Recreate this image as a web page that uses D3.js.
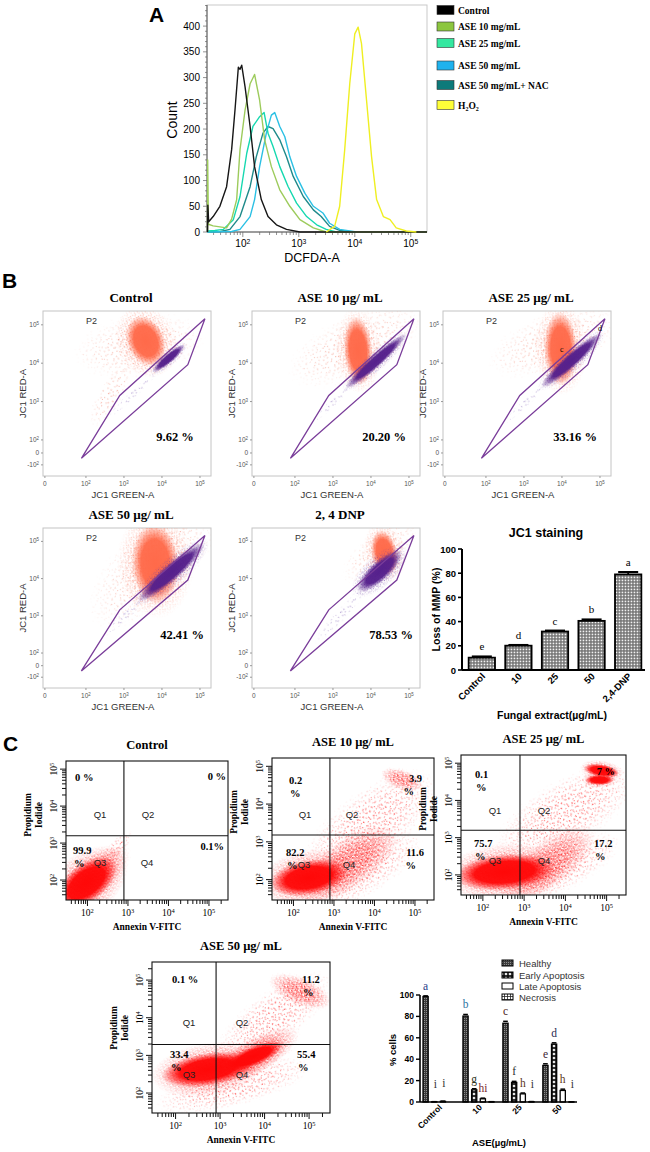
<!DOCTYPE html>
<html lang="en">
<head>
<meta charset="UTF-8">
<title>DCFDA, JC1 and Annexin V panels</title>
<script src="https://d3js.org/d3.v7.min.js"></script>
<style>
  body { margin: 0; background: #fff; }
  svg { display: block; }
</style>
</head>
<body>
<div id="figure"></div>
<script>

// ================= DATA =================

// Panel A: DCFDA histograms, points are [log10 DCFDA-A, count]
var histNames = ['Control', 'ASE 10 mg/mL', 'ASE 25 mg/mL', 'ASE 50 mg/mL', 'ASE 50 mg/mL+ NAC', 'H2O2'];
var histControl = [[1.37,0],[1.375,52],[1.39,20],[1.47,30],[1.59,50],[1.71,88],[1.80,160],[1.86,237],[1.92,320],[1.95,316],[1.98,324],[2.04,282],[2.13,205],[2.21,127],[2.33,63],[2.45,30],[2.60,14],[2.78,5],[3.02,0],[5.29,0]];
var histAse10 = [[1.37,0],[1.372,140],[1.385,15],[1.47,12],[1.71,8],[1.80,25],[1.89,63],[1.95,160],[2.04,237],[2.13,288],[2.21,306],[2.30,256],[2.39,179],[2.51,127],[2.66,82],[2.84,50],[3.02,24],[3.26,8],[3.49,0],[5.29,0]];
var histAse25 = [[1.37,2],[1.50,3],[1.65,5],[1.83,24],[1.95,69],[2.07,153],[2.18,205],[2.30,224],[2.38,232],[2.45,192],[2.54,166],[2.66,127],[2.81,88],[2.96,56],[3.14,30],[3.32,14],[3.49,5],[3.67,0]];
var histAse50 = [[1.37,0],[1.80,1],[1.95,5],[2.13,30],[2.21,63],[2.30,127],[2.42,192],[2.51,227],[2.57,232],[2.66,205],[2.75,185],[2.84,146],[2.96,108],[3.11,75],[3.26,50],[3.43,37],[3.55,17],[3.73,5],[4.03,0]];
var histNac = [[1.37,0],[1.60,1],[1.77,5],[1.95,30],[2.13,88],[2.24,146],[2.36,192],[2.45,205],[2.54,201],[2.66,179],[2.78,146],[2.90,108],[3.08,69],[3.26,43],[3.40,30],[3.55,11],[3.73,3],[3.97,0]];
var histH2o2 = [[3.49,0],[3.64,11],[3.73,50],[3.82,160],[3.91,288],[4.00,385],[4.06,398],[4.12,366],[4.21,256],[4.30,146],[4.39,63],[4.51,30],[4.63,24],[4.74,8],[4.92,2],[5.10,0]];
var histYTicks = [0, 50, 100, 150, 200, 250, 300, 350, 400];
var histXTicks = [2, 3, 4, 5];

// Panel B: JC1 dot plots (display units ~ log10, biexponential near 0)
var jc1Titles = ['Control', 'ASE 10 µg/ mL', 'ASE 25 µg/ mL', 'ASE 50 µg/ mL', '2, 4 DNP'];
var jc1Gated = ['9.62 %', '20.20 %', '33.16 %', '42.41 %', '78.53 %'];
var jc1Gate = [[1.88,1.52],[2.89,3.16],[5.13,5.16],[4.68,3.96]];   // P2 gate, [GREEN, RED]
var jc1XTicks = [[0.92,'0'],[2,'2'],[3,'3'],[4,'4'],[5,'5']];
var jc1YTicks = [[1.35,'-2'],[1.66,'0'],[2,'2'],[3,'3'],[4,'4'],[5,'5']];
// event clouds: [population, density, green1, red1, green2, red2, width]
var jc1CloudsControl = [['J','sparse',2.5,4.3,4.3,4.6,1.6],['J','sparse',2.3,2.6,3.0,3.8,0.6],['J','core',3.5,4.75,3.65,4.4,0.8],
                        ['M','sparse',2.6,2.6,3.9,3.8,0.2],['M','core',3.85,3.85,4.5,4.4,0.2]];
var jc1CloudsAse10 = [['J','sparse',2.6,4.0,4.6,4.9,1.6],['J','core',3.62,4.85,3.7,3.8,0.6],
                      ['M','sparse',2.5,2.5,3.5,3.45,0.2],['M','core',3.45,3.45,4.8,4.65,0.26]];
var jc1CloudsAse25 = [['J','sparse',2.8,4.2,4.8,4.9,1.5],['J','core',3.95,4.9,3.98,3.85,0.7],
                      ['M','sparse',2.5,2.45,3.6,3.5,0.2],['M','core',3.6,3.5,4.9,4.65,0.3]];
var jc1CloudsAse50 = [['J','sparse',2.9,3.5,4.6,5.2,1.9],['J','core',3.8,4.85,3.85,3.95,1.0],
                      ['M','sparse',2.5,2.5,3.6,3.55,0.25],['M','core',3.55,3.55,4.95,4.8,0.36]];
var jc1CloudsDnp = [['J','sparse',3.7,4.3,4.8,5.2,1.0],['J','core',4.3,4.95,4.4,4.45,0.55],
                    ['M','sparse',2.6,2.35,3.9,3.8,0.3],['M','core',3.85,3.85,4.6,4.55,0.42]];

// JC1 staining bar chart
var jc1Groups = ['Control', '10', '25', '50', '2,4-DNP'];
var jc1Loss = [10.2, 20.1, 31.8, 40.6, 79.0];
var jc1Err = [1.0, 0.6, 0.8, 1.2, 2.0];
var jc1Letters = ['e', 'd', 'c', 'b', 'a'];

// Panel C: Annexin V-FITC / PI quadrants (log10 units)
var apoTitles = ['Control', 'ASE 10 µg/ mL', 'ASE 25 µg/ mL', 'ASE 50 µg/ mL'];
var apoQ1 = ['0 %', '0.2 %', '0.1 %', '0.1 %'];
var apoQ2 = ['0 %', '3.9 %', '7 %', '11.2 %'];
var apoQ3 = ['99.9 %', '82.2 %', '75.7 %', '33.4 %'];
var apoQ4 = ['0.1%', '11.6 %', '17.2 %', '55.4 %'];
var apoGateX = [2.9, 2.9, 2.9, 2.91];
var apoGateY = [3.2, 3.18, 3.2, 3.29];
var apoTicks = [2, 3, 4, 5];
// event clouds: [density, annexin1, pi1, annexin2, pi2, width]
var apoCloudsControl = [['sparse',2.3,2.3,2.95,3.15,0.4],['mid',1.55,1.55,2.6,2.5,0.8],['core',1.65,1.65,2.3,2.2,0.75]];
var apoCloudsAse10 = [['sparse',2.9,2.6,4.8,4.2,1.6],['sparse',2.6,1.6,4.6,2.8,1.2],['mid',2.8,2.0,4.0,2.9,1.0],['mid',4.4,4.75,4.95,4.55,0.4],['core',1.85,1.95,2.9,2.15,0.7]];
var apoCloudsAse25 = [['sparse',3.0,3.0,5.0,4.3,1.5],['sparse',2.8,1.6,4.8,2.7,1.1],['mid',3.0,1.8,4.2,2.8,0.9],['core',4.6,4.85,5.15,4.75,0.25],['core',4.6,4.55,5.05,4.55,0.2],['core',1.75,2.0,3.3,2.15,0.7]];
var apoCloudsAse50 = [['sparse',2.0,1.8,4.6,2.6,0.9],['sparse',3.4,3.3,5.0,4.7,1.1],['mid',4.4,4.9,5.2,4.5,0.5],['mid',3.2,2.6,4.4,3.4,0.65],['core',2.05,2.5,3.4,2.75,0.6],['core',3.3,2.75,4.2,3.2,0.35]];

// Apoptosis bar chart
var apoGroups = ['Control', '10', '25', '50'];
var apoSeries = ['Healthy', 'Early Apoptosis', 'Late Apoptosis', 'Necrosis'];
var apoHealthy = [98.6, 80.3, 73.6, 34.2];
var apoEarly = [0.2, 11.4, 18.3, 54.1];
var apoLate = [0.6, 3.0, 7.6, 10.8];
var apoNecrosis = [0.0, 0.2, 0.3, 0.1];
var apoHealthyErr = [0.6, 1.5, 1.8, 1.5];
var apoEarlyErr = [0.1, 1.0, 1.0, 1.2];
var apoLateErr = [0.2, 0.6, 0.8, 1.2];
var apoNecrosisErr = [0.0, 0.1, 0.1, 0.1];
var apoHealthyLetters = ['a', 'b', 'c', 'e'];
var apoEarlyLetters = ['i', 'g', 'f', 'd'];
var apoLateLetters = ['i', 'hi', 'h', 'h'];
var apoNecrosisLetters = ['', '', 'i', 'i'];

// ================= DRAWING =================

var SERIF = '"Liberation Serif", "Times New Roman", serif';
var SANS = '"Liberation Sans", Arial, sans-serif';

var svg = d3.select('#figure').append('svg')
    .attr('width', 650).attr('height', 1152);
var defs = svg.append('defs');

// speckle patterns for the dot clouds
var speckDots = [[1,2],[5,1],[9,4],[3,7],[11,9],[7,12],[13,13],[2,12],[12,5],[7,6]];
function speckle(id, color, tile, r, rot) {
    var p = defs.append('pattern').attr('id', id)
        .attr('patternUnits', 'userSpaceOnUse')
        .attr('width', tile).attr('height', tile)
        .attr('patternTransform', 'rotate(' + rot + ')');
    speckDots.forEach(function(d) {
        p.append('circle').attr('cx', d[0] * tile / 14).attr('cy', d[1] * tile / 14)
            .attr('r', r).attr('fill', color);
    });
}
speckle('jSparse', '#f6a393', 20, 0.6, 23);
speckle('jSparse2', '#f6a393', 15, 0.55, 67);
speckle('jMid', '#ff6e52', 8, 0.65, 23);
speckle('mSparse', '#a48cc9', 20, 0.6, 23);
speckle('mSparse2', '#a48cc9', 15, 0.55, 67);
speckle('mMid', '#6a34a0', 7, 0.65, 23);
speckle('rSparse', '#ff2a2a', 16, 0.55, 23);
speckle('rSparse2', '#ff2a2a', 12, 0.5, 67);
speckle('rMid', '#ff1010', 6, 0.6, 23);

// soft edge used by the dot clouds
var fadeGrad = defs.append('radialGradient').attr('id', 'fadeGrad');
fadeGrad.append('stop').attr('offset', '0%').attr('stop-color', '#fff');
fadeGrad.append('stop').attr('offset', '40%').attr('stop-color', '#fff');
fadeGrad.append('stop').attr('offset', '100%').attr('stop-color', '#000');
defs.append('mask').attr('id', 'fade').attr('maskContentUnits', 'objectBoundingBox')
    .append('rect').attr('width', 1).attr('height', 1).attr('fill', 'url(#fadeGrad)');

function coreGradient(id, color) {
    var gr = defs.append('radialGradient').attr('id', id);
    gr.append('stop').attr('offset', '0%').attr('stop-color', color).attr('stop-opacity', 1);
    gr.append('stop').attr('offset', '60%').attr('stop-color', color).attr('stop-opacity', 0.96);
    gr.append('stop').attr('offset', '100%').attr('stop-color', color).attr('stop-opacity', 0);
}
coreGradient('jCore', '#ff6a4a');
coreGradient('mCore', '#55208c');
coreGradient('rCore', '#ff0808');

var cloudFill = {
    J: {core: 'url(#jCore)', mid: 'url(#jMid)', sparse: 'url(#jSparse)', sparse2: 'url(#jSparse2)'},
    M: {core: 'url(#mCore)', mid: 'url(#mMid)', sparse: 'url(#mSparse)', sparse2: 'url(#mSparse2)'},
    R: {core: 'url(#rCore)', mid: 'url(#rMid)', sparse: 'url(#rSparse)', sparse2: 'url(#rSparse2)'}
};

function drawCloud(g, sx, sy, pop, dens, x1, y1, x2, y2, w) {
    var p1 = [sx(x1), sy(y1)], p2 = [sx(x2), sy(y2)];
    var cx = (p1[0] + p2[0]) / 2, cy = (p1[1] + p2[1]) / 2;
    var len = Math.hypot(p2[0] - p1[0], p2[1] - p1[1]);
    var ang = Math.atan2(p2[1] - p1[1], p2[0] - p1[0]) * 180 / Math.PI;
    var wpx = Math.abs(sx(w) - sx(0));
    var tr = 'translate(' + cx + ',' + cy + ') rotate(' + ang + ')';
    var fills = cloudFill[pop];
    function ell(k, fill, masked) {
        var e = g.append('ellipse').attr('transform', tr)
            .attr('rx', len / 2 + wpx * k).attr('ry', wpx * k).attr('fill', fill);
        if (masked) e.attr('mask', 'url(#fade)');
    }
    if (dens === 'core') {
        ell(1.0, fills.mid, true);
        ell(0.62, fills.core, false);
    } else if (dens === 'mid') {
        ell(0.6, fills.mid, true);
        ell(0.7, fills.sparse2, true);
    } else {
        ell(0.55, fills.sparse, true);
        ell(0.5, fills.sparse2, true);
    }
}

function pow10(sel, k) {
    sel.append('tspan').text((k.charAt(0) === '-' ? '-' : '') + '10');
    sel.append('tspan').attr('dy', '-0.45em').attr('font-size', '0.68em').text(k.replace('-', ''));
}

function panelLetter(t, x, y) {
    svg.append('text').attr('x', x).attr('y', y).text(t)
        .style('font-family', SANS).style('font-weight', 'bold').style('font-size', '21px');
}

// ---------- Panel A ----------
panelLetter('A', 149, 22);

var hx = d3.scaleLinear().domain([1.36, 5.29]).range([207, 427]);
var hy = d3.scaleLinear().domain([0, 441]).range([232, 5]);
var hg = svg.append('g');

hg.append('rect').attr('x', 207).attr('y', 5).attr('width', 220).attr('height', 227)
    .attr('fill', 'none').attr('stroke', '#c9c9c9');
hg.append('line').attr('x1', 207).attr('x2', 427).attr('y1', 232).attr('y2', 232).attr('stroke', '#555');
hg.append('line').attr('x1', 207).attr('x2', 207).attr('y1', 5).attr('y2', 232).attr('stroke', '#555');

d3.range(0, 441, 10).forEach(function(v) {
    hg.append('line').attr('x1', 207).attr('x2', v % 50 === 0 ? 203 : 205)
        .attr('y1', hy(v)).attr('y2', hy(v)).attr('stroke', '#666').attr('stroke-width', 0.7);
});
histYTicks.forEach(function(v) {
    hg.append('text').attr('x', 200).attr('y', hy(v) + 3.5).attr('text-anchor', 'end').text(v)
        .style('font-family', SANS).style('font-size', '10px');
});
[1, 2, 3, 4, 5].forEach(function(d) {
    d3.range(1, 10).forEach(function(m) {
        var v = d + Math.log10(m);
        if (v < 1.36 || v > 5.29) return;
        hg.append('line').attr('x1', hx(v)).attr('x2', hx(v)).attr('y1', 232)
            .attr('y2', m === 1 ? 237 : 235).attr('stroke', '#666').attr('stroke-width', 0.7);
    });
});
histXTicks.forEach(function(k) {
    var t = hg.append('text').attr('x', hx(k)).attr('y', 247).attr('text-anchor', 'middle')
        .style('font-family', SANS).style('font-size', '10px');
    pow10(t, String(k));
});
hg.append('text').attr('transform', 'translate(177,120) rotate(-90)').attr('text-anchor', 'middle')
    .text('Count').style('font-family', SANS).style('font-size', '14px');
hg.append('text').attr('x', 312).attr('y', 262).attr('text-anchor', 'middle')
    .text('DCFDA-A').style('font-family', SANS).style('font-size', '12.5px');

var histLines = [histControl, histAse10, histAse25, histAse50, histNac, histH2o2];
var histColors = ['#161616', '#9dcb5c', '#16d8b0', '#2bc0e4', '#1f8a8a', '#efef22'];
var swatchColors = ['#000000', '#8cc63f', '#34e8a0', '#1fb2ee', '#0d7a7a', '#ffff38'];
var line = d3.line().x(function(d) { return hx(d[0]); }).y(function(d) { return hy(d[1]); });
[4, 3, 2, 1, 0, 5].forEach(function(i) {
    hg.append('path').attr('d', line(histLines[i])).attr('fill', 'none')
        .attr('stroke', histColors[i]).attr('stroke-width', 1.4).attr('stroke-linejoin', 'round');
});

var legendY = [10, 26.5, 43, 65.5, 85, 105];
histNames.forEach(function(n, i) {
    hg.append('rect').attr('x', 437).attr('y', legendY[i] - 4.5).attr('width', 17).attr('height', 9)
        .attr('fill', swatchColors[i]).attr('stroke', '#333').attr('stroke-width', 0.6);
    var t = hg.append('text').attr('x', 458).attr('y', legendY[i] + 3.5)
        .style('font-family', SERIF).style('font-weight', 'bold').style('font-size', '9.5px');
    if (n === 'H2O2') {
        t.append('tspan').text('H');
        t.append('tspan').attr('font-size', '6px').attr('dy', 2).text('2');
        t.append('tspan').attr('dy', -2).text('O');
        t.append('tspan').attr('font-size', '6px').attr('dy', 2).text('2');
    } else {
        t.text(n);
    }
});

// ---------- Panel B ----------
panelLetter('B', 2, 288);

var jc1Frames = [
    {x: 43, y: 311, w: 168, h: 165},
    {x: 252, y: 311, w: 168, h: 165},
    {x: 443, y: 311, w: 168, h: 165},
    {x: 43, y: 528, w: 168, h: 160},
    {x: 252, y: 528, w: 168, h: 160}
];
var jc1Clouds = [jc1CloudsControl, jc1CloudsAse10, jc1CloudsAse25, jc1CloudsAse50, jc1CloudsDnp];

jc1Frames.forEach(function(f, i) {
    var sx = d3.scaleLinear().domain([0.87, 5.29]).range([f.x, f.x + f.w]);
    var sy = d3.scaleLinear().domain([1.06, 5.36]).range([f.y + f.h, f.y]);
    var g = svg.append('g');

    defs.append('clipPath').attr('id', 'jclip' + i).append('rect')
        .attr('x', f.x).attr('y', f.y).attr('width', f.w).attr('height', f.h);

    g.append('rect').attr('x', f.x).attr('y', f.y).attr('width', f.w).attr('height', f.h)
        .attr('fill', '#fff').attr('stroke', '#c4c4c4');

    var cg = g.append('g').attr('clip-path', 'url(#jclip' + i + ')');
    jc1Clouds[i].forEach(function(c) {
        drawCloud(cg, sx, sy, c[0], c[1], c[2], c[3], c[4], c[5], c[6]);
    });

    g.append('path')
        .attr('d', d3.line()(jc1Gate.map(function(p) { return [sx(p[0]), sy(p[1])]; })) + 'Z')
        .attr('fill', 'none').attr('stroke', '#7a3d9a').attr('stroke-width', 1.3);

    g.append('text').attr('x', f.x + 43).attr('y', f.y + 13).text('P2')
        .style('font-family', SANS).style('font-size', '9px').style('fill', '#333');

    jc1XTicks.forEach(function(tk) {
        g.append('line').attr('x1', sx(tk[0])).attr('x2', sx(tk[0])).attr('y1', f.y + f.h)
            .attr('y2', f.y + f.h + 2).attr('stroke', '#999');
        var t = g.append('text').attr('x', sx(tk[0])).attr('y', f.y + f.h + 10).attr('text-anchor', 'middle')
            .style('font-family', SANS).style('font-size', '6.5px').style('fill', '#555');
        if (tk[1] === '0') t.text('0'); else pow10(t, tk[1]);
    });
    jc1YTicks.forEach(function(tk) {
        g.append('line').attr('x1', f.x - 2).attr('x2', f.x).attr('y1', sy(tk[0])).attr('y2', sy(tk[0]))
            .attr('stroke', '#999');
        var t = g.append('text').attr('x', f.x - 4).attr('y', sy(tk[0]) + 2).attr('text-anchor', 'end')
            .style('font-family', SANS).style('font-size', '6.5px').style('fill', '#555');
        if (tk[1] === '0') t.text('0'); else pow10(t, tk[1]);
    });

    g.append('text').attr('x', f.x + 80).attr('y', f.y + f.h + 22).attr('text-anchor', 'middle')
        .text('JC1 GREEN-A').style('font-family', SANS).style('font-size', '9.5px').style('fill', '#333');
    g.append('text').attr('transform', 'translate(' + (f.x - 17) + ',' + (f.y + f.h / 2) + ') rotate(-90)')
        .attr('text-anchor', 'middle').text('JC1 RED-A')
        .style('font-family', SANS).style('font-size', '9.5px').style('fill', '#333');

    g.append('text').attr('x', f.x + 88).attr('y', f.y - 9).attr('text-anchor', 'middle')
        .text(jc1Titles[i]).style('font-family', SERIF).style('font-weight', 'bold').style('font-size', '13px');

    var row2 = i > 2;
    g.append('text').attr('x', f.x + (row2 ? 139 : 132)).attr('y', f.y + (row2 ? 111 : 130))
        .attr('text-anchor', 'middle').text(jc1Gated[i])
        .style('font-family', SERIF).style('font-weight', 'bold').style('font-size', '12.5px');
});

// letters printed inside the ASE 25 plot
(function() {
    var f = jc1Frames[2];
    var sx = d3.scaleLinear().domain([0.87, 5.29]).range([f.x, f.x + f.w]);
    var sy = d3.scaleLinear().domain([1.06, 5.36]).range([f.y + f.h, f.y]);
    svg.append('text').attr('x', sx(3.95)).attr('y', sy(4.3)).text('c')
        .style('font-family', SERIF).style('font-size', '8px');
    svg.append('text').attr('x', sx(4.95)).attr('y', sy(4.85)).text('d')
        .style('font-family', SERIF).style('font-size', '8px');
})();

// JC1 staining bar chart
var chk = defs.append('pattern').attr('id', 'chk').attr('patternUnits', 'userSpaceOnUse')
    .attr('width', 3).attr('height', 3);
chk.append('rect').attr('width', 3).attr('height', 3).attr('fill', '#6e6e6e');
chk.append('rect').attr('x', 0.6).attr('y', 0.6).attr('width', 1.7).attr('height', 1.7).attr('fill', '#f2f2f2');

var jx = d3.scaleBand().domain(jc1Groups).range([465, 645]).paddingInner(0.28).paddingOuter(0.1);
var jy = d3.scaleLinear().domain([0, 100]).range([670, 549]);
var jg = svg.append('g');

jg.append('text').attr('x', 546).attr('y', 537).attr('text-anchor', 'middle').text('JC1 staining')
    .style('font-family', SANS).style('font-weight', 'bold').style('font-size', '12.5px');

jc1Groups.forEach(function(gn, i) {
    var x0 = jx(gn), bw = jx.bandwidth();
    jg.append('rect').attr('x', x0).attr('y', jy(jc1Loss[i])).attr('width', bw)
        .attr('height', jy(0) - jy(jc1Loss[i])).attr('fill', 'url(#chk)')
        .attr('stroke', '#000').attr('stroke-width', 1.8);
    var cx = x0 + bw / 2;
    jg.append('line').attr('x1', cx).attr('x2', cx).attr('y1', jy(jc1Loss[i])).attr('y2', jy(jc1Loss[i] + jc1Err[i]))
        .attr('stroke', '#000').attr('stroke-width', 1.8);
    jg.append('line').attr('x1', cx - bw * 0.38).attr('x2', cx + bw * 0.38)
        .attr('y1', jy(jc1Loss[i] + jc1Err[i])).attr('y2', jy(jc1Loss[i] + jc1Err[i]))
        .attr('stroke', '#000').attr('stroke-width', 2);
    jg.append('text').attr('x', cx).attr('y', jy(jc1Loss[i] + jc1Err[i]) - 6).attr('text-anchor', 'middle')
        .text(jc1Letters[i]).style('font-family', SERIF).style('font-size', '11px');
    jg.append('text').attr('transform', 'translate(' + (cx + 4) + ',677) rotate(-45)')
        .attr('text-anchor', 'end').text(gn)
        .style('font-family', SANS).style('font-weight', 'bold').style('font-size', '9.5px');
});
jg.append('line').attr('x1', 462).attr('x2', 645).attr('y1', jy(0)).attr('y2', jy(0))
    .attr('stroke', '#000').attr('stroke-width', 2);
jg.append('line').attr('x1', 462).attr('x2', 462).attr('y1', jy(0)).attr('y2', jy(100))
    .attr('stroke', '#000').attr('stroke-width', 2);
[0, 20, 40, 60, 80, 100].forEach(function(v) {
    jg.append('line').attr('x1', 458).attr('x2', 462).attr('y1', jy(v)).attr('y2', jy(v))
        .attr('stroke', '#000').attr('stroke-width', 1.6);
    jg.append('text').attr('x', 456).attr('y', jy(v) + 3.5).attr('text-anchor', 'end').text(v)
        .style('font-family', SANS).style('font-weight', 'bold').style('font-size', '9.5px');
});
jg.append('text').attr('transform', 'translate(440,' + jy(50) + ') rotate(-90)').attr('text-anchor', 'middle')
    .text('Loss of MMP (%)').style('font-family', SANS).style('font-weight', 'bold').style('font-size', '10.5px');
jg.append('text').attr('x', 552).attr('y', 719).attr('text-anchor', 'middle')
    .text('Fungal extract(µg/mL)').style('font-family', SANS).style('font-weight', 'bold').style('font-size', '10.5px');

// ---------- Panel C ----------
panelLetter('C', 3, 751);

var apoFrames = [
    {x: 66, y: 761, w: 162, h: 139, ydom: [1.46, 5.22],
     vals: [[9, 20, 'start', 0], [160, 19, 'end', 0], [7, 93, 'start', 1], [158, 89, 'end', 0]],
     names: [[34, 57], [82, 57], [34, 105], [81, 105]]},
    {x: 272, y: 758, w: 162, h: 142, ydom: [1.46, 5.22],
     vals: [[17, 26, 'start', 1], [150, 24, 'end', 1], [14, 98, 'start', 1], [152, 98, 'end', 1]],
     names: [[33, 60], [80, 60], [32, 110], [77, 110]]},
    {x: 461, y: 755, w: 165, h: 140, ydom: [1.46, 5.22],
     vals: [[14, 23, 'start', 1], [154, 20, 'end', 0], [13, 92, 'start', 1], [133, 92, 'start', 1]],
     names: [[34, 59], [83, 59], [34, 109], [83, 109]]},
    {x: 152, y: 962, w: 178, h: 151, ydom: [1.47, 5.48],
     vals: [[20, 21, 'start', 0], [150, 21, 'start', 1], [18, 96, 'start', 1], [145, 96, 'start', 1]],
     names: [[37, 64], [90, 64], [37, 116], [90, 116]]}
];
var apoClouds = [apoCloudsControl, apoCloudsAse10, apoCloudsAse25, apoCloudsAse50];
var apoQ = [apoQ1, apoQ2, apoQ3, apoQ4];

apoFrames.forEach(function(f, i) {
    var sx = d3.scaleLinear().domain([1.47, 5.47]).range([f.x, f.x + f.w]);
    var sy = d3.scaleLinear().domain(f.ydom).range([f.y + f.h, f.y]);
    var g = svg.append('g');
    var bottom = f.y + f.h;

    defs.append('clipPath').attr('id', 'aclip' + i).append('rect')
        .attr('x', f.x).attr('y', f.y).attr('width', f.w).attr('height', f.h);
    var cg = g.append('g').attr('clip-path', 'url(#aclip' + i + ')');
    apoClouds[i].forEach(function(c) {
        drawCloud(cg, sx, sy, 'R', c[0], c[1], c[2], c[3], c[4], c[5]);
    });

    g.append('rect').attr('x', f.x).attr('y', f.y).attr('width', f.w).attr('height', f.h)
        .attr('fill', 'none').attr('stroke', '#111').attr('stroke-width', 1.1);
    g.append('line').attr('x1', sx(apoGateX[i])).attr('x2', sx(apoGateX[i])).attr('y1', f.y).attr('y2', bottom)
        .attr('stroke', '#111').attr('stroke-width', 1.1);
    g.append('line').attr('x1', f.x).attr('x2', f.x + f.w).attr('y1', sy(apoGateY[i])).attr('y2', sy(apoGateY[i]))
        .attr('stroke', '#111').attr('stroke-width', 1.1);

    // log ticks
    [1, 2, 3, 4, 5].forEach(function(d) {
        d3.range(1, 10).forEach(function(m) {
            var v = d + Math.log10(m);
            if (v >= 1.49 && v <= 5.45) {
                g.append('line').attr('x1', sx(v)).attr('x2', sx(v)).attr('y1', bottom)
                    .attr('y2', bottom + (m === 1 ? 6 : 4)).attr('stroke', '#111');
            }
            if (v >= f.ydom[0] + 0.02 && v <= f.ydom[1] - 0.02) {
                g.append('line').attr('x1', f.x).attr('x2', f.x - (m === 1 ? 6 : 4))
                    .attr('y1', sy(v)).attr('y2', sy(v)).attr('stroke', '#111');
            }
        });
    });
    apoTicks.forEach(function(k) {
        var t = g.append('text').attr('x', sx(k)).attr('y', bottom + 16).attr('text-anchor', 'middle')
            .style('font-family', SERIF).style('font-size', '9.5px');
        pow10(t, String(k));
        var ty = g.append('text').attr('transform', 'translate(' + (f.x - 9) + ',' + sy(k) + ') rotate(-90)')
            .attr('text-anchor', 'middle')
            .style('font-family', SERIF).style('font-size', '9.5px');
        pow10(ty, String(k));
    });

    g.append('text').attr('x', f.x + f.w / 2).attr('y', bottom + 30).attr('text-anchor', 'middle')
        .text('Annexin V-FITC').style('font-family', SERIF).style('font-weight', 'bold').style('font-size', '9.5px');
    var ly = f.y + (i === 3 ? 66 : 54);
    g.append('text').attr('transform', 'translate(' + (f.x - 35) + ',' + ly + ') rotate(-90)')
        .attr('text-anchor', 'middle').text('Propidium')
        .style('font-family', SERIF).style('font-weight', 'bold').style('font-size', '9.5px');
    g.append('text').attr('transform', 'translate(' + (f.x - 24) + ',' + ly + ') rotate(-90)')
        .attr('text-anchor', 'middle').text('Iodide')
        .style('font-family', SERIF).style('font-weight', 'bold').style('font-size', '9.5px');

    g.append('text').attr('x', f.x + f.w / 2).attr('y', f.y - 12).attr('text-anchor', 'middle')
        .text(apoTitles[i]).style('font-family', SERIF).style('font-weight', 'bold').style('font-size', '12.5px');

    ['Q1', 'Q2', 'Q3', 'Q4'].forEach(function(q, j) {
        g.append('text').attr('x', f.x + f.names[j][0]).attr('y', f.y + f.names[j][1])
            .attr('text-anchor', 'middle').text(q)
            .style('font-family', SANS).style('font-size', '9.5px').style('fill', '#222');
        var p = f.vals[j], s = apoQ[j][i];
        var lines = p[3] ? [s.replace(/\s*%$/, ''), '%'] : [s];
        lines.forEach(function(l, k) {
            g.append('text').attr('x', f.x + p[0] + (k && p[2] === 'start' ? 1 : 0) - (k && p[2] === 'end' ? 8 : 0))
                .attr('y', f.y + p[1] + k * 13).attr('text-anchor', p[2]).text(l)
                .style('font-family', SERIF).style('font-weight', 'bold').style('font-size', '10.5px');
        });
    });
});

// Apoptosis bar chart
function pat(id, w, h, build) {
    var p = defs.append('pattern').attr('id', id).attr('patternUnits', 'userSpaceOnUse')
        .attr('width', w).attr('height', h);
    build(p);
}
pat('healthy', 2, 2, function(p) {
    p.append('rect').attr('width', 2).attr('height', 2).attr('fill', '#3c3c3c');
    p.append('rect').attr('width', 0.8).attr('height', 0.8).attr('fill', '#bdbdbd');
});
pat('early', 4, 4, function(p) {
    p.append('rect').attr('width', 4).attr('height', 4).attr('fill', '#111');
    p.append('path').attr('d', 'M2,0.4 L3.6,2 L2,3.6 L0.4,2 Z').attr('fill', '#fff');
});
pat('late', 4, 4, function(p) {
    p.append('rect').attr('width', 4).attr('height', 4).attr('fill', '#fff');
});
pat('necrosis', 3, 3, function(p) {
    p.append('rect').attr('width', 3).attr('height', 3).attr('fill', '#fff');
    p.append('path').attr('d', 'M0,0.5 H3 M0.5,0 V3').attr('stroke', '#222').attr('stroke-width', 0.8);
});
var apoFills = ['url(#healthy)', 'url(#early)', 'url(#late)', 'url(#necrosis)'];
var apoVals = [apoHealthy, apoEarly, apoLate, apoNecrosis];
var apoErrs = [apoHealthyErr, apoEarlyErr, apoLateErr, apoNecrosisErr];
var apoLetters = [apoHealthyLetters, apoEarlyLetters, apoLateLetters, apoNecrosisLetters];
var letterColor = {a: '#1d3a86', b: '#2f73a3', c: '#4a2418', d: '#27284f', e: '#3d2433',
    f: '#2a2a2a', g: '#2e3320', h: '#5a3618', hi: '#7b1f2e', i: '#333'};

var ax = d3.scaleBand().domain(apoGroups).range([423, 574]).paddingInner(0.22);
var ax1 = d3.scaleBand().domain(apoSeries).range([0, ax.bandwidth()]).paddingInner(0.4);
var ay = d3.scaleLinear().domain([0, 100]).range([1102, 995]);
var ag = svg.append('g');

apoGroups.forEach(function(gn, gi) {
    apoSeries.forEach(function(sn, si) {
        var v = apoVals[si][gi], e = apoErrs[si][gi];
        var x0 = ax(gn) + ax1(sn), bw = ax1.bandwidth(), cx = x0 + bw / 2;
        if (v > 0) {
            ag.append('rect').attr('x', x0).attr('y', ay(v)).attr('width', bw).attr('height', ay(0) - ay(v))
                .attr('fill', apoFills[si]).attr('stroke', '#000').attr('stroke-width', 1.3);
        }
        if (e > 0) {
            ag.append('line').attr('x1', cx - bw * 0.45).attr('x2', cx + bw * 0.45)
                .attr('y1', ay(v + e)).attr('y2', ay(v + e)).attr('stroke', '#000').attr('stroke-width', 1.5);
        }
        var L = apoLetters[si][gi];
        if (L) {
            ag.append('text').attr('x', cx + (v < 1 ? 1 : 0)).attr('y', ay(v + e) - (v < 1 ? 14 : 6))
                .attr('text-anchor', 'middle').text(L)
                .style('font-family', SERIF).style('font-size', '11.5px').style('fill', letterColor[L]);
        }
    });
    ag.append('text').attr('transform', 'translate(' + (ax(gn) + ax.bandwidth() / 2 + 4) + ',1108) rotate(-45)')
        .attr('text-anchor', 'end').text(gn)
        .style('font-family', SANS).style('font-weight', 'bold').style('font-size', '8.5px');
});
ag.append('line').attr('x1', 420).attr('x2', 577).attr('y1', ay(0)).attr('y2', ay(0))
    .attr('stroke', '#000').attr('stroke-width', 1.6);
ag.append('line').attr('x1', 420).attr('x2', 420).attr('y1', ay(0)).attr('y2', ay(100))
    .attr('stroke', '#000').attr('stroke-width', 1.6);
[0, 20, 40, 60, 80, 100].forEach(function(v) {
    ag.append('line').attr('x1', 416).attr('x2', 420).attr('y1', ay(v)).attr('y2', ay(v))
        .attr('stroke', '#000').attr('stroke-width', 1.4);
    ag.append('text').attr('x', 414).attr('y', ay(v) + 3).attr('text-anchor', 'end').text(v)
        .style('font-family', SANS).style('font-weight', 'bold').style('font-size', '8.5px');
});
ag.append('text').attr('transform', 'translate(396,1050) rotate(-90)').attr('text-anchor', 'middle')
    .text('% cells').style('font-family', SANS).style('font-weight', 'bold').style('font-size', '9.5px');
ag.append('text').attr('x', 499).attr('y', 1146).attr('text-anchor', 'middle')
    .text('ASE(µg/mL)').style('font-family', SANS).style('font-weight', 'bold').style('font-size', '9.5px');

var legRows = [963, 975, 986, 997];
apoSeries.forEach(function(sn, si) {
    ag.append('rect').attr('x', 502).attr('y', legRows[si] - 3).attr('width', 11).attr('height', 6)
        .attr('fill', apoFills[si]).attr('stroke', '#000').attr('stroke-width', 1);
    ag.append('text').attr('x', 519).attr('y', legRows[si] + 3.5).text(sn)
        .style('font-family', SANS).style('font-size', '9.5px').style('fill', '#333');
});

</script>
</body>
</html>
